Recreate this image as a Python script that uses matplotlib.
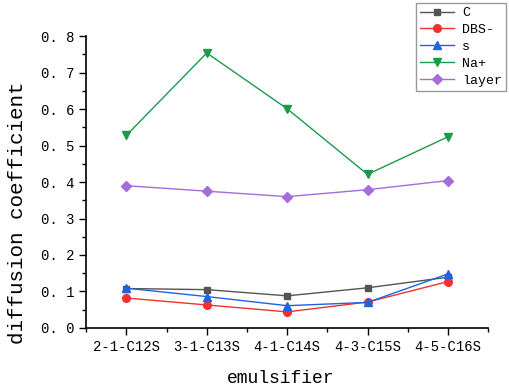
import matplotlib
matplotlib.use("Agg")
import matplotlib.pyplot as plt
from matplotlib.ticker import MultipleLocator

categories = ["2-1-C12S", "3-1-C13S", "4-1-C14S", "4-3-C15S", "4-5-C16S"]
c_vals = [0.108, 0.105, 0.088, 0.110, 0.139]
dbs_vals = [0.082, 0.063, 0.044, 0.071, 0.127]
s_vals = [0.109, 0.086, 0.061, 0.070, 0.148]
na_vals = [0.528, 0.754, 0.601, 0.421, 0.524]
layer_vals = [0.390, 0.375, 0.360, 0.379, 0.404]

series = [
    ("C", c_vals, "#545454", "s", 4.5),
    ("DBS-", dbs_vals, "#f23030", "o", 5.5),
    ("s", s_vals, "#1f63e0", "^", 6),
    ("Na+", na_vals, "#1b9a4a", "v", 6),
    ("layer", layer_vals, "#a56ddc", "D", 5),
]

plt.rcParams['font.family'] = ['Liberation Mono', 'DejaVu Sans']
fig = plt.figure(figsize=(5.1, 3.89), dpi=100)
ax = fig.add_axes([0.169, 0.157, 0.788, 0.75])
x = list(range(len(categories)))
for name, vals, col, mk, ms in series:
    ax.plot(x, vals, color=col, marker=mk, markersize=ms, linewidth=1.0, label=name)

ax.set_xlim(-0.5, 4.5)
ax.set_ylim(0, 0.8)
ax.set_xticks(x)
ax.set_xticklabels(categories, fontsize=10)
ax.xaxis.set_minor_locator(MultipleLocator(0.5))
ax.yaxis.set_major_locator(MultipleLocator(0.1))
ax.yaxis.set_minor_locator(MultipleLocator(0.05))
ax.set_yticklabels([f"{v:.1f}".replace(".", ". ") for v in ax.get_yticks()], fontsize=10)
ax.tick_params(which='major', direction='out', length=5, width=1)
ax.tick_params(which='minor', direction='out', length=3, width=1)
for sp in ['top', 'right']:
    ax.spines[sp].set_visible(False)
for sp in ['left', 'bottom']:
    ax.spines[sp].set_linewidth(1.2)
ax.set_xlabel("emulsifier", fontsize=13, labelpad=12)
ax.set_ylabel("diffusion coefficient", fontsize=15, labelpad=10)
ax.xaxis.label.set_x(0.485)
ax.yaxis.label.set_y(0.394)
leg = ax.legend(loc='upper right', bbox_to_anchor=(506 / 510, 1 - 3 / 389),
                bbox_transform=fig.transFigure, fontsize=9.5, frameon=True,
                fancybox=False, edgecolor='#808080', handlelength=2.6, borderpad=0.3,
                labelspacing=0.35, handletextpad=0.6, borderaxespad=0.0)
leg.get_frame().set_linewidth(1.0)
fig.savefig("out.png", dpi=100)
